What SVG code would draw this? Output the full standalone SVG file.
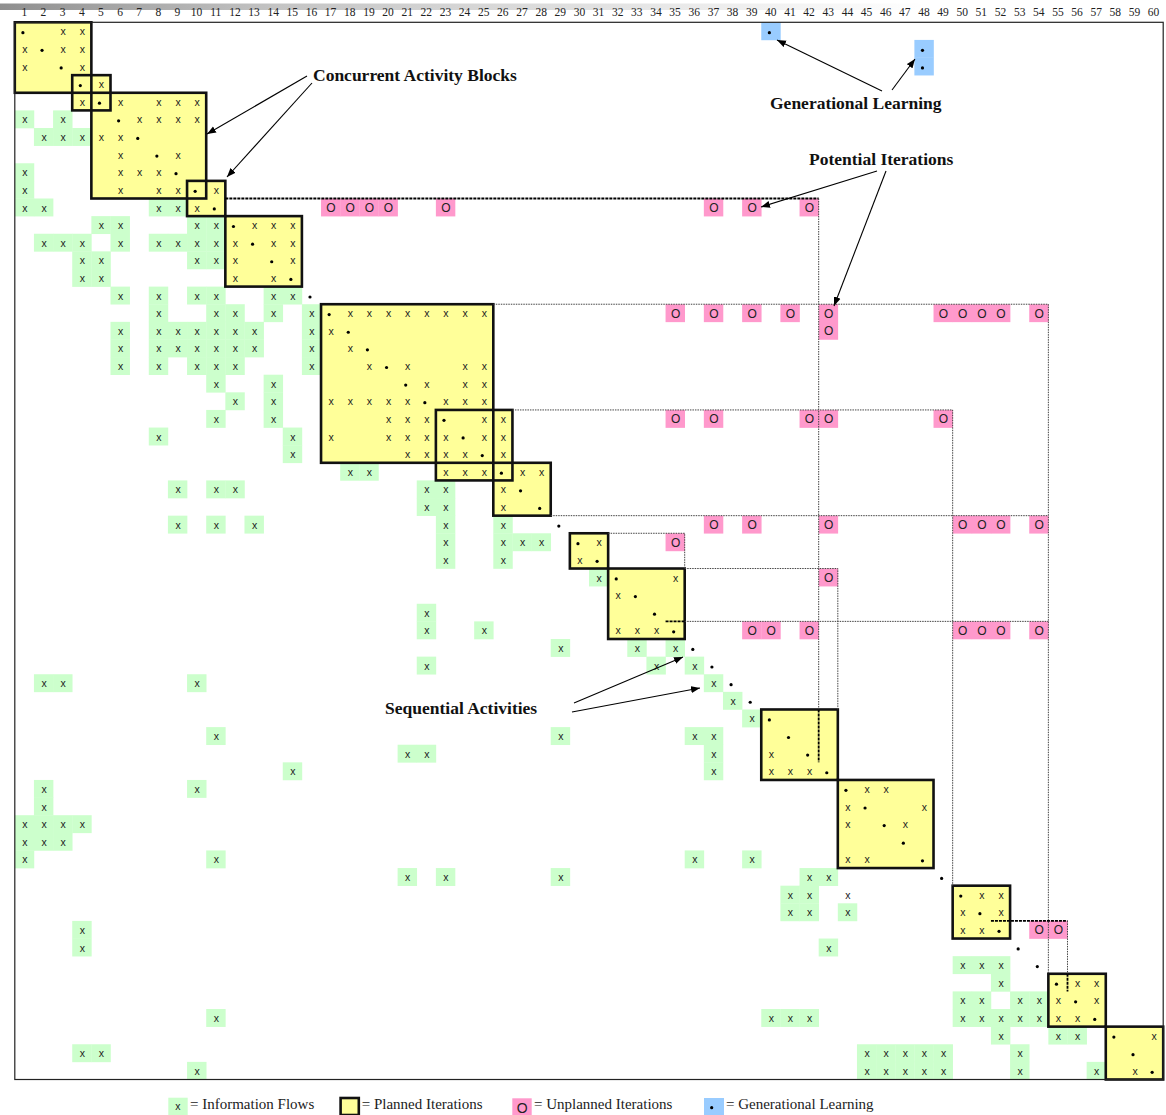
<svg xmlns="http://www.w3.org/2000/svg" width="1166" height="1115" viewBox="0 0 1166 1115">
<style>
.x{font-family:"Liberation Sans",Arial,sans-serif;font-size:10.5px;text-anchor:middle;fill:#222}
.o{font-family:"Liberation Sans",Arial,sans-serif;font-size:12px;text-anchor:middle;fill:#222}
.hd{font-family:"Liberation Serif","Times New Roman",serif;font-size:11.5px;text-anchor:middle;fill:#222}
.ann{font-family:"Liberation Serif","Times New Roman",serif;font-size:17.5px;font-weight:bold;fill:#111}
.lg{font-family:"Liberation Serif","Times New Roman",serif;font-size:15px;fill:#222}
.blk{fill:#ffff99}
.bo{fill:none;stroke:#111;stroke-width:2.6}
.dl{fill:none;stroke:#444;stroke-width:1;stroke-dasharray:1.5 1}
.dk{fill:none;stroke:#000;stroke-width:1.8;stroke-dasharray:3 1}
.arr{fill:none;stroke:#000;stroke-width:1.1;marker-end:url(#ah)}
</style>
<defs>
<linearGradient id="topbar" x1="0" x2="1" y1="0" y2="0">
<stop offset="0" stop-color="#8f8f8f"/><stop offset="0.3" stop-color="#c4c4c4"/><stop offset="0.8" stop-color="#efefef"/><stop offset="1" stop-color="#ffffff"/>
</linearGradient>
<marker id="ah" markerWidth="10" markerHeight="8" refX="9" refY="4" orient="auto" markerUnits="userSpaceOnUse"><path d="M0,0.5 L9,4 L0,7.5 z" fill="#000"/></marker>
<g id="gx"><rect width="19.44" height="17.92" fill="#ccffcc"/><text class="x" x="10.1" y="13">x</text></g>
<text id="x" class="x" x="10.1" y="13">x</text>
<circle id="d" cx="8.1" cy="10.4" r="1.6" fill="#000"/>
<g id="o"><rect width="19.44" height="17.92" fill="#ff99cc"/><text class="o" x="10" y="13.3">O</text></g>
<g id="b"><rect width="19.44" height="17.92" fill="#99ccff"/><circle cx="8.1" cy="10.4" r="1.6" fill="#000"/></g>
</defs>
<rect width="1166" height="1115" fill="#fff"/>
<rect x="0" y="3.5" width="930" height="6.5" fill="url(#topbar)"/>
<g id="header" transform="translate(24.37,0)">
<text class="hd" x="0" y="15.8">1</text><text class="hd" x="19.14" y="15.8">2</text><text class="hd" x="38.28" y="15.8">3</text><text class="hd" x="57.42" y="15.8">4</text><text class="hd" x="76.56" y="15.8">5</text><text class="hd" x="95.7" y="15.8">6</text><text class="hd" x="114.84" y="15.8">7</text><text class="hd" x="133.98" y="15.8">8</text><text class="hd" x="153.12" y="15.8">9</text><text class="hd" x="172.26" y="15.8">10</text>
<text class="hd" x="191.4" y="15.8">11</text><text class="hd" x="210.54" y="15.8">12</text><text class="hd" x="229.68" y="15.8">13</text><text class="hd" x="248.82" y="15.8">14</text><text class="hd" x="267.96" y="15.8">15</text><text class="hd" x="287.1" y="15.8">16</text><text class="hd" x="306.24" y="15.8">17</text><text class="hd" x="325.38" y="15.8">18</text><text class="hd" x="344.52" y="15.8">19</text><text class="hd" x="363.66" y="15.8">20</text>
<text class="hd" x="382.8" y="15.8">21</text><text class="hd" x="401.94" y="15.8">22</text><text class="hd" x="421.08" y="15.8">23</text><text class="hd" x="440.22" y="15.8">24</text><text class="hd" x="459.36" y="15.8">25</text><text class="hd" x="478.5" y="15.8">26</text><text class="hd" x="497.64" y="15.8">27</text><text class="hd" x="516.78" y="15.8">28</text><text class="hd" x="535.92" y="15.8">29</text><text class="hd" x="555.06" y="15.8">30</text>
<text class="hd" x="574.2" y="15.8">31</text><text class="hd" x="593.34" y="15.8">32</text><text class="hd" x="612.48" y="15.8">33</text><text class="hd" x="631.62" y="15.8">34</text><text class="hd" x="650.76" y="15.8">35</text><text class="hd" x="669.9" y="15.8">36</text><text class="hd" x="689.04" y="15.8">37</text><text class="hd" x="708.18" y="15.8">38</text><text class="hd" x="727.32" y="15.8">39</text><text class="hd" x="746.46" y="15.8">40</text>
<text class="hd" x="765.6" y="15.8">41</text><text class="hd" x="784.74" y="15.8">42</text><text class="hd" x="803.88" y="15.8">43</text><text class="hd" x="823.02" y="15.8">44</text><text class="hd" x="842.16" y="15.8">45</text><text class="hd" x="861.3" y="15.8">46</text><text class="hd" x="880.44" y="15.8">47</text><text class="hd" x="899.58" y="15.8">48</text><text class="hd" x="918.72" y="15.8">49</text><text class="hd" x="937.86" y="15.8">50</text>
<text class="hd" x="957" y="15.8">51</text><text class="hd" x="976.14" y="15.8">52</text><text class="hd" x="995.28" y="15.8">53</text><text class="hd" x="1014.42" y="15.8">54</text><text class="hd" x="1033.56" y="15.8">55</text><text class="hd" x="1052.7" y="15.8">56</text><text class="hd" x="1071.84" y="15.8">57</text><text class="hd" x="1090.98" y="15.8">58</text><text class="hd" x="1110.12" y="15.8">59</text><text class="hd" x="1129.26" y="15.8">60</text>
</g>
<g id="matrix" transform="translate(14.8,22.3)">
<g id="block-fills">
<rect class="blk" x="0" y="0" width="76.56" height="70.48"/>
<rect class="blk" x="57.42" y="52.86" width="38.28" height="35.24"/>
<rect class="blk" x="76.56" y="70.48" width="114.84" height="105.72"/>
<rect class="blk" x="172.26" y="158.58" width="38.28" height="35.24"/>
<rect class="blk" x="210.54" y="193.82" width="76.56" height="70.48"/>
<rect class="blk" x="306.24" y="281.92" width="172.26" height="158.58"/>
<rect class="blk" x="421.08" y="387.64" width="76.56" height="70.48"/>
<rect class="blk" x="478.5" y="440.5" width="57.42" height="52.86"/>
<rect class="blk" x="555.06" y="510.98" width="38.28" height="35.24"/>
<rect class="blk" x="593.34" y="546.22" width="76.56" height="70.48"/>
<rect class="blk" x="746.46" y="687.18" width="76.56" height="70.48"/>
<rect class="blk" x="823.02" y="757.66" width="95.7" height="88.1"/>
<rect class="blk" x="937.86" y="863.38" width="57.42" height="52.86"/>
<rect class="blk" x="1033.56" y="951.48" width="57.42" height="52.86"/>
<rect class="blk" x="1090.98" y="1004.34" width="57.42" height="52.86"/>
</g>
<g id="rows">
<g id="row1"><use href="#d" x="0"/><use href="#x" x="38.28"/><use href="#x" x="57.42"/><use href="#b" x="746.46"/></g>
<g id="row2" transform="translate(0,17.62)"><use href="#x" x="0"/><use href="#d" x="19.14"/><use href="#x" x="38.28"/><use href="#x" x="57.42"/><use href="#b" x="899.58"/></g>
<g id="row3" transform="translate(0,35.24)"><use href="#x" x="0"/><use href="#d" x="38.28"/><use href="#x" x="57.42"/><use href="#b" x="899.58"/></g>
<g id="row4" transform="translate(0,52.86)"><use href="#d" x="57.42"/><use href="#x" x="76.56"/></g>
<g id="row5" transform="translate(0,70.48)"><use href="#x" x="57.42"/><use href="#d" x="76.56"/><use href="#x" x="95.7"/><use href="#x" x="133.98"/><use href="#x" x="153.12"/><use href="#x" x="172.26"/></g>
<g id="row6" transform="translate(0,88.1)"><use href="#gx" x="0"/><use href="#gx" x="38.28"/><use href="#d" x="95.7"/><use href="#x" x="114.84"/><use href="#x" x="133.98"/><use href="#x" x="153.12"/><use href="#x" x="172.26"/></g>
<g id="row7" transform="translate(0,105.72)"><use href="#gx" x="19.14"/><use href="#gx" x="38.28"/><use href="#gx" x="57.42"/><use href="#x" x="76.56"/><use href="#x" x="95.7"/><use href="#d" x="114.84"/></g>
<g id="row8" transform="translate(0,123.34)"><use href="#x" x="95.7"/><use href="#d" x="133.98"/><use href="#x" x="153.12"/></g>
<g id="row9" transform="translate(0,140.96)"><use href="#gx" x="0"/><use href="#x" x="95.7"/><use href="#x" x="114.84"/><use href="#x" x="133.98"/><use href="#d" x="153.12"/></g>
<g id="row10" transform="translate(0,158.58)"><use href="#gx" x="0"/><use href="#x" x="95.7"/><use href="#x" x="133.98"/><use href="#x" x="153.12"/><use href="#d" x="172.26"/><use href="#x" x="191.4"/></g>
<g id="row11" transform="translate(0,176.2)"><use href="#gx" x="0"/><use href="#gx" x="19.14"/><use href="#gx" x="133.98"/><use href="#gx" x="153.12"/><use href="#x" x="172.26"/><use href="#d" x="191.4"/><use href="#o" x="306.24"/><use href="#o" x="325.38"/><use href="#o" x="344.52"/><use href="#o" x="363.66"/><use href="#o" x="421.08"/><use href="#o" x="689.04"/><use href="#o" x="727.32"/><use href="#o" x="784.74"/></g>
<g id="row12" transform="translate(0,193.82)"><use href="#gx" x="76.56"/><use href="#gx" x="95.7"/><use href="#gx" x="172.26"/><use href="#gx" x="191.4"/><use href="#d" x="210.54"/><use href="#x" x="229.68"/><use href="#x" x="248.82"/><use href="#x" x="267.96"/></g>
<g id="row13" transform="translate(0,211.44)"><use href="#gx" x="19.14"/><use href="#gx" x="38.28"/><use href="#gx" x="57.42"/><use href="#gx" x="95.7"/><use href="#gx" x="133.98"/><use href="#gx" x="153.12"/><use href="#gx" x="172.26"/><use href="#gx" x="191.4"/><use href="#x" x="210.54"/><use href="#d" x="229.68"/><use href="#x" x="248.82"/><use href="#x" x="267.96"/></g>
<g id="row14" transform="translate(0,229.06)"><use href="#gx" x="57.42"/><use href="#gx" x="76.56"/><use href="#gx" x="172.26"/><use href="#gx" x="191.4"/><use href="#x" x="210.54"/><use href="#d" x="248.82"/><use href="#x" x="267.96"/></g>
<g id="row15" transform="translate(0,246.68)"><use href="#gx" x="57.42"/><use href="#gx" x="76.56"/><use href="#x" x="210.54"/><use href="#x" x="248.82"/><use href="#d" x="267.96"/></g>
<g id="row16" transform="translate(0,264.3)"><use href="#gx" x="95.7"/><use href="#gx" x="133.98"/><use href="#gx" x="172.26"/><use href="#gx" x="191.4"/><use href="#gx" x="248.82"/><use href="#gx" x="267.96"/><use href="#d" x="287.1"/></g>
<g id="row17" transform="translate(0,281.92)"><use href="#gx" x="133.98"/><use href="#gx" x="191.4"/><use href="#gx" x="210.54"/><use href="#gx" x="248.82"/><use href="#gx" x="287.1"/><use href="#d" x="306.24"/><use href="#x" x="325.38"/><use href="#x" x="344.52"/><use href="#x" x="363.66"/><use href="#x" x="382.8"/><use href="#x" x="401.94"/><use href="#x" x="421.08"/><use href="#x" x="440.22"/><use href="#x" x="459.36"/><use href="#o" x="650.76"/><use href="#o" x="689.04"/><use href="#o" x="727.32"/><use href="#o" x="765.6"/><use href="#o" x="803.88"/><use href="#o" x="918.72"/><use href="#o" x="937.86"/><use href="#o" x="957"/><use href="#o" x="976.14"/><use href="#o" x="1014.42"/></g>
<g id="row18" transform="translate(0,299.54)"><use href="#gx" x="95.7"/><use href="#gx" x="133.98"/><use href="#gx" x="153.12"/><use href="#gx" x="172.26"/><use href="#gx" x="191.4"/><use href="#gx" x="210.54"/><use href="#gx" x="229.68"/><use href="#gx" x="287.1"/><use href="#x" x="306.24"/><use href="#d" x="325.38"/><use href="#o" x="803.88"/></g>
<g id="row19" transform="translate(0,317.16)"><use href="#gx" x="95.7"/><use href="#gx" x="133.98"/><use href="#gx" x="153.12"/><use href="#gx" x="172.26"/><use href="#gx" x="191.4"/><use href="#gx" x="210.54"/><use href="#gx" x="229.68"/><use href="#gx" x="287.1"/><use href="#x" x="325.38"/><use href="#d" x="344.52"/></g>
<g id="row20" transform="translate(0,334.78)"><use href="#gx" x="95.7"/><use href="#gx" x="133.98"/><use href="#gx" x="172.26"/><use href="#gx" x="191.4"/><use href="#gx" x="210.54"/><use href="#gx" x="287.1"/><use href="#x" x="344.52"/><use href="#d" x="363.66"/><use href="#x" x="382.8"/><use href="#x" x="440.22"/><use href="#x" x="459.36"/></g>
<g id="row21" transform="translate(0,352.4)"><use href="#gx" x="191.4"/><use href="#gx" x="248.82"/><use href="#d" x="382.8"/><use href="#x" x="401.94"/><use href="#x" x="440.22"/><use href="#x" x="459.36"/></g>
<g id="row22" transform="translate(0,370.02)"><use href="#gx" x="210.54"/><use href="#gx" x="248.82"/><use href="#x" x="306.24"/><use href="#x" x="325.38"/><use href="#x" x="344.52"/><use href="#x" x="363.66"/><use href="#x" x="382.8"/><use href="#d" x="401.94"/><use href="#x" x="421.08"/><use href="#x" x="440.22"/><use href="#x" x="459.36"/></g>
<g id="row23" transform="translate(0,387.64)"><use href="#gx" x="191.4"/><use href="#gx" x="248.82"/><use href="#x" x="363.66"/><use href="#x" x="382.8"/><use href="#x" x="401.94"/><use href="#d" x="421.08"/><use href="#x" x="459.36"/><use href="#x" x="478.5"/><use href="#o" x="650.76"/><use href="#o" x="689.04"/><use href="#o" x="784.74"/><use href="#o" x="803.88"/><use href="#o" x="918.72"/></g>
<g id="row24" transform="translate(0,405.26)"><use href="#gx" x="133.98"/><use href="#gx" x="267.96"/><use href="#x" x="306.24"/><use href="#x" x="363.66"/><use href="#x" x="382.8"/><use href="#x" x="401.94"/><use href="#x" x="421.08"/><use href="#d" x="440.22"/><use href="#x" x="459.36"/><use href="#x" x="478.5"/></g>
<g id="row25" transform="translate(0,422.88)"><use href="#gx" x="267.96"/><use href="#x" x="382.8"/><use href="#x" x="401.94"/><use href="#x" x="421.08"/><use href="#x" x="440.22"/><use href="#d" x="459.36"/><use href="#x" x="478.5"/></g>
<g id="row26" transform="translate(0,440.5)"><use href="#gx" x="325.38"/><use href="#gx" x="344.52"/><use href="#x" x="421.08"/><use href="#x" x="440.22"/><use href="#x" x="459.36"/><use href="#d" x="478.5"/><use href="#x" x="497.64"/><use href="#x" x="516.78"/></g>
<g id="row27" transform="translate(0,458.12)"><use href="#gx" x="153.12"/><use href="#gx" x="191.4"/><use href="#gx" x="210.54"/><use href="#gx" x="401.94"/><use href="#gx" x="421.08"/><use href="#x" x="478.5"/><use href="#d" x="497.64"/></g>
<g id="row28" transform="translate(0,475.74)"><use href="#gx" x="401.94"/><use href="#gx" x="421.08"/><use href="#x" x="478.5"/><use href="#d" x="516.78"/></g>
<g id="row29" transform="translate(0,493.36)"><use href="#gx" x="153.12"/><use href="#gx" x="191.4"/><use href="#gx" x="229.68"/><use href="#gx" x="421.08"/><use href="#gx" x="478.5"/><use href="#d" x="535.92"/><use href="#o" x="689.04"/><use href="#o" x="727.32"/><use href="#o" x="803.88"/><use href="#o" x="937.86"/><use href="#o" x="957"/><use href="#o" x="976.14"/><use href="#o" x="1014.42"/></g>
<g id="row30" transform="translate(0,510.98)"><use href="#gx" x="421.08"/><use href="#gx" x="478.5"/><use href="#gx" x="497.64"/><use href="#gx" x="516.78"/><use href="#d" x="555.06"/><use href="#x" x="574.2"/><use href="#o" x="650.76"/></g>
<g id="row31" transform="translate(0,528.6)"><use href="#gx" x="421.08"/><use href="#gx" x="478.5"/><use href="#x" x="555.06"/><use href="#d" x="574.2"/></g>
<g id="row32" transform="translate(0,546.22)"><use href="#gx" x="574.2"/><use href="#d" x="593.34"/><use href="#x" x="650.76"/><use href="#o" x="803.88"/></g>
<g id="row33" transform="translate(0,563.84)"><use href="#x" x="593.34"/><use href="#d" x="612.48"/></g>
<g id="row34" transform="translate(0,581.46)"><use href="#gx" x="401.94"/><use href="#d" x="631.62"/></g>
<g id="row35" transform="translate(0,599.08)"><use href="#gx" x="401.94"/><use href="#gx" x="459.36"/><use href="#x" x="593.34"/><use href="#x" x="612.48"/><use href="#x" x="631.62"/><use href="#d" x="650.76"/><use href="#o" x="727.32"/><use href="#o" x="746.46"/><use href="#o" x="784.74"/><use href="#o" x="937.86"/><use href="#o" x="957"/><use href="#o" x="976.14"/><use href="#o" x="1014.42"/></g>
<g id="row36" transform="translate(0,616.7)"><use href="#gx" x="535.92"/><use href="#gx" x="612.48"/><use href="#gx" x="650.76"/><use href="#d" x="669.9"/></g>
<g id="row37" transform="translate(0,634.32)"><use href="#gx" x="401.94"/><use href="#gx" x="631.62"/><use href="#gx" x="669.9"/><use href="#d" x="689.04"/></g>
<g id="row38" transform="translate(0,651.94)"><use href="#gx" x="19.14"/><use href="#gx" x="38.28"/><use href="#gx" x="172.26"/><use href="#gx" x="689.04"/><use href="#d" x="708.18"/></g>
<g id="row39" transform="translate(0,669.56)"><use href="#gx" x="708.18"/><use href="#d" x="727.32"/></g>
<g id="row40" transform="translate(0,687.18)"><use href="#gx" x="727.32"/><use href="#d" x="746.46"/></g>
<g id="row41" transform="translate(0,704.8)"><use href="#gx" x="191.4"/><use href="#gx" x="535.92"/><use href="#gx" x="669.9"/><use href="#gx" x="689.04"/><use href="#d" x="765.6"/></g>
<g id="row42" transform="translate(0,722.42)"><use href="#gx" x="382.8"/><use href="#gx" x="401.94"/><use href="#gx" x="689.04"/><use href="#x" x="746.46"/><use href="#d" x="784.74"/></g>
<g id="row43" transform="translate(0,740.04)"><use href="#gx" x="267.96"/><use href="#gx" x="689.04"/><use href="#x" x="746.46"/><use href="#x" x="765.6"/><use href="#x" x="784.74"/><use href="#d" x="803.88"/></g>
<g id="row44" transform="translate(0,757.66)"><use href="#gx" x="19.14"/><use href="#gx" x="172.26"/><use href="#d" x="823.02"/><use href="#x" x="842.16"/><use href="#x" x="861.3"/></g>
<g id="row45" transform="translate(0,775.28)"><use href="#gx" x="19.14"/><use href="#x" x="823.02"/><use href="#d" x="842.16"/><use href="#x" x="899.58"/></g>
<g id="row46" transform="translate(0,792.9)"><use href="#gx" x="0"/><use href="#gx" x="19.14"/><use href="#gx" x="38.28"/><use href="#gx" x="57.42"/><use href="#x" x="823.02"/><use href="#d" x="861.3"/><use href="#x" x="880.44"/></g>
<g id="row47" transform="translate(0,810.52)"><use href="#gx" x="0"/><use href="#gx" x="19.14"/><use href="#gx" x="38.28"/><use href="#d" x="880.44"/></g>
<g id="row48" transform="translate(0,828.14)"><use href="#gx" x="0"/><use href="#gx" x="191.4"/><use href="#gx" x="669.9"/><use href="#gx" x="727.32"/><use href="#x" x="823.02"/><use href="#x" x="842.16"/><use href="#d" x="899.58"/></g>
<g id="row49" transform="translate(0,845.76)"><use href="#gx" x="382.8"/><use href="#gx" x="421.08"/><use href="#gx" x="535.92"/><use href="#gx" x="784.74"/><use href="#gx" x="803.88"/><use href="#d" x="918.72"/></g>
<g id="row50" transform="translate(0,863.38)"><use href="#gx" x="765.6"/><use href="#gx" x="784.74"/><use href="#x" x="823.02"/><use href="#d" x="937.86"/><use href="#x" x="957"/><use href="#x" x="976.14"/></g>
<g id="row51" transform="translate(0,881)"><use href="#gx" x="765.6"/><use href="#gx" x="784.74"/><use href="#gx" x="823.02"/><use href="#x" x="937.86"/><use href="#d" x="957"/><use href="#x" x="976.14"/></g>
<g id="row52" transform="translate(0,898.62)"><use href="#gx" x="57.42"/><use href="#x" x="937.86"/><use href="#x" x="957"/><use href="#d" x="976.14"/><use href="#o" x="1014.42"/><use href="#o" x="1033.56"/></g>
<g id="row53" transform="translate(0,916.24)"><use href="#gx" x="57.42"/><use href="#gx" x="803.88"/><use href="#d" x="995.28"/></g>
<g id="row54" transform="translate(0,933.86)"><use href="#gx" x="937.86"/><use href="#gx" x="957"/><use href="#gx" x="976.14"/><use href="#d" x="1014.42"/></g>
<g id="row55" transform="translate(0,951.48)"><use href="#gx" x="976.14"/><use href="#d" x="1033.56"/><use href="#x" x="1052.7"/><use href="#x" x="1071.84"/></g>
<g id="row56" transform="translate(0,969.1)"><use href="#gx" x="937.86"/><use href="#gx" x="957"/><use href="#gx" x="995.28"/><use href="#gx" x="1014.42"/><use href="#x" x="1033.56"/><use href="#d" x="1052.7"/><use href="#x" x="1071.84"/></g>
<g id="row57" transform="translate(0,986.72)"><use href="#gx" x="191.4"/><use href="#gx" x="746.46"/><use href="#gx" x="765.6"/><use href="#gx" x="784.74"/><use href="#gx" x="937.86"/><use href="#gx" x="957"/><use href="#gx" x="976.14"/><use href="#gx" x="995.28"/><use href="#gx" x="1014.42"/><use href="#x" x="1033.56"/><use href="#x" x="1052.7"/><use href="#d" x="1071.84"/></g>
<g id="row58" transform="translate(0,1004.34)"><use href="#gx" x="976.14"/><use href="#gx" x="1033.56"/><use href="#gx" x="1052.7"/><use href="#d" x="1090.98"/><use href="#x" x="1129.26"/></g>
<g id="row59" transform="translate(0,1021.96)"><use href="#gx" x="57.42"/><use href="#gx" x="76.56"/><use href="#gx" x="842.16"/><use href="#gx" x="861.3"/><use href="#gx" x="880.44"/><use href="#gx" x="899.58"/><use href="#gx" x="918.72"/><use href="#gx" x="995.28"/><use href="#d" x="1110.12"/></g>
<g id="row60" transform="translate(0,1039.58)"><use href="#gx" x="172.26"/><use href="#gx" x="842.16"/><use href="#gx" x="861.3"/><use href="#gx" x="880.44"/><use href="#gx" x="899.58"/><use href="#gx" x="918.72"/><use href="#gx" x="995.28"/><use href="#gx" x="1071.84"/><use href="#x" x="1110.12"/><use href="#d" x="1129.26"/></g>
</g>
<g id="blocks">
<rect id="block-1-4" class="bo" x="0" y="0" width="76.56" height="70.48"/>
<rect id="block-4-5" class="bo" x="57.42" y="52.86" width="38.28" height="35.24"/>
<rect id="block-5-10" class="bo" x="76.56" y="70.48" width="114.84" height="105.72"/>
<rect id="block-10-11" class="bo" x="172.26" y="158.58" width="38.28" height="35.24"/>
<rect id="block-12-15" class="bo" x="210.54" y="193.82" width="76.56" height="70.48"/>
<rect id="block-17-25" class="bo" x="306.24" y="281.92" width="172.26" height="158.58"/>
<rect id="block-23-26" class="bo" x="421.08" y="387.64" width="76.56" height="70.48"/>
<rect id="block-26-28" class="bo" x="478.5" y="440.5" width="57.42" height="52.86"/>
<rect id="block-30-31" class="bo" x="555.06" y="510.98" width="38.28" height="35.24"/>
<rect id="block-32-35" class="bo" x="593.34" y="546.22" width="76.56" height="70.48"/>
<rect id="block-40-43" class="bo" x="746.46" y="687.18" width="76.56" height="70.48"/>
<rect id="block-44-48" class="bo" x="823.02" y="757.66" width="95.7" height="88.1"/>
<rect id="block-50-52" class="bo" x="937.86" y="863.38" width="57.42" height="52.86"/>
<rect id="block-55-57" class="bo" x="1033.56" y="951.48" width="57.42" height="52.86"/>
<rect id="block-58-60" class="bo" x="1090.98" y="1004.34" width="57.42" height="52.86"/>
</g>
<g id="iteration-lines">
<path class="dk" d="M210.54,176.2 H803.88"/>
<path class="dl" d="M803.88,176.2 V687.18"/>
<path class="dk" d="M803.88,687.18 V740.04"/>
<path class="dl" d="M478.5,281.92 H1033.56 V951.48"/>
<path class="dl" d="M497.64,387.64 H937.86 V863.38"/>
<path class="dl" d="M535.92,493.36 H1033.56"/>
<path class="dl" d="M593.34,510.98 H669.9 V546.22"/>
<path class="dl" d="M669.9,546.22 H823.02 V687.18"/>
<path class="dk" d="M650.76,599.08 H669.9"/>
<path class="dl" d="M669.9,599.08 H1033.56"/>
<path class="dk" d="M976.14,898.62 H1052.7"/>
<path class="dl" d="M1052.7,898.62 V951.48"/>
<path class="dk" d="M1052.7,951.48 V969.1"/>
</g>
<rect id="frame" x="0" y="0" width="1148.4" height="1057.2" fill="none" stroke="#222" stroke-width="1.2"/>
</g>
<g id="annotations">
<g id="ann-concurrent"><text class="ann" x="313" y="81">Concurrent Activity Blocks</text></g>
<g id="ann-generational"><text class="ann" x="770" y="109">Generational Learning</text></g>
<g id="ann-potential"><text class="ann" x="809" y="165">Potential Iterations</text></g>
<g id="ann-sequential"><text class="ann" x="385" y="714">Sequential Activities</text></g>
</g>
<g id="connectors">
<line class="arr" x1="307" y1="76" x2="207" y2="134"/>
<line class="arr" x1="312" y1="83" x2="227" y2="177"/>
<line class="arr" x1="882" y1="91" x2="777" y2="40"/>
<line class="arr" x1="892" y1="90" x2="915" y2="59"/>
<line class="arr" x1="877" y1="171" x2="761" y2="207"/>
<line class="arr" x1="886" y1="171" x2="834" y2="306"/>
<line class="arr" x1="574" y1="703" x2="683" y2="657"/>
<line class="arr" x1="572" y1="712" x2="700" y2="688"/>
</g>
<g id="legend">
<g id="legend-flows"><rect x="168.3" y="1097.7" width="19.4" height="17.3" fill="#ccffcc"/><text class="x" x="177.9" y="1110">x</text><text class="lg" x="190" y="1109">= Information Flows</text></g>
<g id="legend-planned"><rect x="340.6" y="1098" width="18.2" height="17" fill="#ffff99" stroke="#111" stroke-width="2.6"/><text class="lg" x="361.7" y="1109">= Planned Iterations</text></g>
<g id="legend-unplanned"><rect x="512.3" y="1098.3" width="19.4" height="16.7" fill="#ff99cc"/><text class="o" x="522.3" y="1112.7" style="font-size:14px">O</text><text class="lg" x="534" y="1109">= Unplanned Iterations</text></g>
<g id="legend-generational"><rect x="704" y="1098" width="20" height="17" fill="#99ccff"/><circle cx="711.7" cy="1107.7" r="1.6" fill="#000"/><text class="lg" x="726" y="1109">= Generational Learning</text></g>
</g>
</svg>
